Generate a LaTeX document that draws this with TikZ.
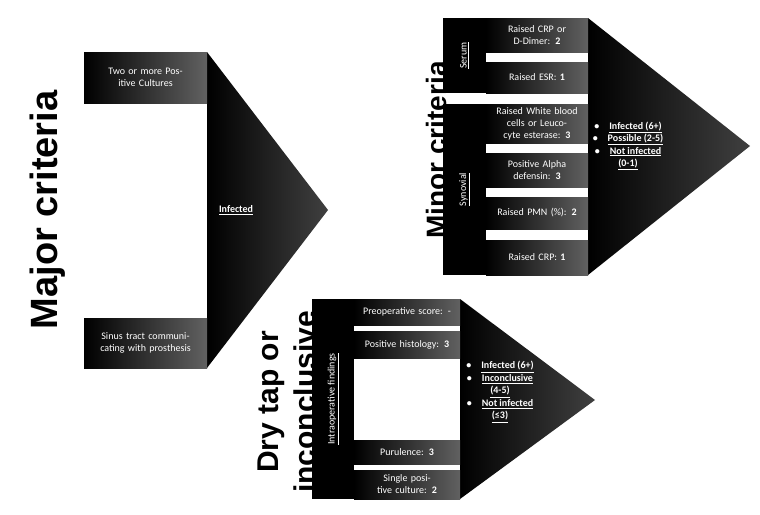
\documentclass[tikz,border=0pt]{standalone}
\usepackage{fontspec}
\setmainfont{Carlito}
\newfontfamily\titlefont{Liberation Sans}
\begin{document}
\begin{tikzpicture}[x=1pt,y=-1pt,
  bx/.style={inner sep=1pt, align=center, text=white, font=\fontsize{10}{12}\selectfont,
    left color=black, right color=black!62, draw=none, text width=#1},
  bx/.default=110pt,
  strip/.style={fill=black, draw=none, inner sep=0pt},
  tri/.style={left color=black, right color=black!75, draw=none},
  ttl/.style={font=\titlefont\bfseries, rotate=90, align=center},
  lbl/.style={text=white, font=\fontsize{10}{12}\selectfont, rotate=90}]
\useasboundingbox (0,0) rectangle (760,514);
% ---------- Major
\path[tri] (207,52) -- (328,210) -- (207,368) -- cycle;
\node[bx=118pt, minimum width=123pt, minimum height=51pt] (mj1) at (145.5,77.5) {Two or more Positive Cultures};
\node[bx=118pt, minimum width=123pt, minimum height=50pt] (mj2) at (145.5,343) {Sinus tract communicating with prosthesis};
\node[text=white, font=\fontsize{10}{12}\selectfont\bfseries] (inf) at (236,210) {\underline{Infected}};
\node[ttl, font=\titlefont\bfseries\fontsize{38}{40}\selectfont] (tmaj) at (48,210) {Major criteria};
% ---------- Minor
\path[tri] (588,18) -- (750,146) -- (588,275) -- cycle;
\node[strip, minimum width=43pt, minimum height=75pt] (sers) at (464.5,55.5) {};
\node[lbl] at (sers) {\underline{Serum}};
\node[bx=98pt, minimum width=102pt, minimum height=34pt] (s1) at (537,35) {Raised CRP or D-Dimer: \textbf{2}};
\node[bx=98pt, minimum width=102pt, minimum height=31pt] (s2) at (537,77.5) {Raised ESR: \textbf{1}};
\node[strip, minimum width=43pt, minimum height=171pt] (syns) at (464.5,189.5) {};
\node[lbl] at (syns) {\underline{Synovial}};
\node[bx=98pt, minimum width=102pt, minimum height=39pt] (y1) at (537,123.5) {Raised White blood cells or Leucocyte esterase: \textbf{3}};
\node[bx=98pt, minimum width=102pt, minimum height=34pt] (y2) at (537,170) {Positive Alpha defensin: \textbf{3}};
\node[bx=98pt, minimum width=102pt, minimum height=32pt] (y3) at (537,213) {Raised PMN (\%): \textbf{2}};
\node[bx=98pt, minimum width=102pt, minimum height=35pt] (y4) at (537,257.5) {Raised CRP: \textbf{1}};
\node[text=white, font=\fontsize{10}{12.5}\selectfont\bfseries, align=center] (minres) at (628,146)
 {\textbullet\quad\underline{Infected (6+)}\\ \textbullet\quad\underline{Possible (2-5)}\\ \textbullet\quad\underline{Not infected}\\ \underline{(0-1)}};
\node[ttl, font=\titlefont\bfseries\fontsize{28}{30}\selectfont] (tmin) at (436,150) {Minor criteria};
% ---------- Dry tap
\path[tri] (460,299) -- (595,400) -- (460,499) -- cycle;
\node[strip, minimum width=42pt, minimum height=200pt] (intra) at (333,399) {};
\node[lbl] at (intra) {\underline{Intraoperative findings}};
\node[bx=102pt, minimum width=106pt, minimum height=26pt] (d1) at (407,312) {Preoperative score: -};
\node[bx=102pt, minimum width=106pt, minimum height=27pt] (d2) at (407,344.5) {Positive histology: \textbf{3}};
\node[bx=102pt, minimum width=106pt, minimum height=24pt] (d3) at (407,452) {Purulence: \textbf{3}};
\node[bx=102pt, minimum width=106pt, minimum height=29pt] (d4) at (407,484.5) {Single positive culture: \textbf{2}};
\node[text=white, font=\fontsize{10}{12.5}\selectfont\bfseries, align=center] (dryres) at (500,392)
 {\textbullet\quad\underline{Infected (6+)}\\ \textbullet\quad\underline{Inconclusive}\\ \underline{(4-5)}\\ \textbullet\quad\underline{Not infected}\\ \underline{(≤3)}};
\node[ttl, font=\titlefont\bfseries\fontsize{30}{37}\selectfont] (tdry) at (287,402) {Dry tap or\\inconclusive};
\end{tikzpicture}
\end{document}
